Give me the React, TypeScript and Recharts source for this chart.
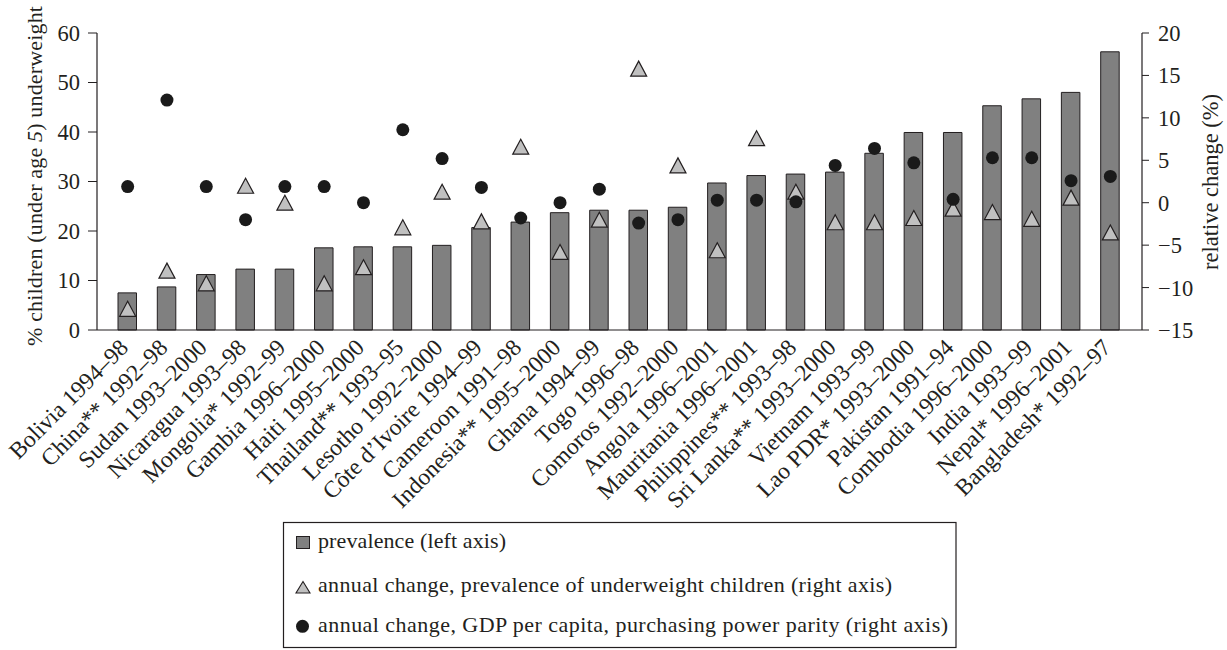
import { Bar, ComposedChart, Scatter, XAxis, YAxis } from "recharts";

const countries = [
  "Bolivia 1994–98",
  "China** 1992–98",
  "Sudan 1993–2000",
  "Nicaragua 1993–98",
  "Mongolia* 1992–99",
  "Gambia 1996–2000",
  "Haiti 1995–2000",
  "Thailand** 1993–95",
  "Lesotho 1992–2000",
  "Côte d’Ivoire 1994–99",
  "Cameroon 1991–98",
  "Indonesia** 1995–2000",
  "Ghana 1994–99",
  "Togo 1996–98",
  "Comoros 1992–2000",
  "Angola 1996–2001",
  "Mauritania 1996–2001",
  "Philippines** 1993–98",
  "Sri Lanka** 1993–2000",
  "Vietnam 1993–99",
  "Lao PDR* 1993–2000",
  "Pakistan 1991–94",
  "Combodia 1996–2000",
  "India 1993–99",
  "Nepal* 1996–2001",
  "Bangladesh* 1992–97",
];

// % of children under 5 underweight (left axis)
const prevalence = [
  7.5, 8.7, 11.2, 12.3, 12.3, 16.6, 16.8, 16.8, 17.1, 20.7, 21.8, 23.7, 24.2,
  24.2, 24.8, 29.7, 31.2, 31.5, 31.9, 35.7, 39.9, 39.9, 45.3, 46.7, 48.0, 56.2,
];

// annual change in underweight prevalence, % (right axis)
const underweightChange = [
  -12.5, -8.0, -9.5, 2.0, 0.0, -9.5, -7.6, -2.9, 1.3, -2.2, 6.6, -5.8, -2.0,
  15.8, 4.4, -5.6, 7.6, 1.3, -2.3, -2.3, -1.8, -0.7, -1.1, -1.9, 0.6, -3.5,
];

// annual change in GDP per capita (PPP), % (right axis)
const gdpChange = [
  1.9, 12.1, 1.9, -2.0, 1.9, 1.9, 0.0, 8.6, 5.2, 1.8, -1.8, 0.0, 1.6, -2.4,
  -2.0, 0.3, 0.3, 0.1, 4.4, 6.4, 4.7, 0.4, 5.3, 5.3, 2.6, 3.1,
];

const leftTicks = [0, 10, 20, 30, 40, 50, 60];
const rightTicks = [-15, -10, -5, 0, 5, 10, 15, 20];

const INK = "#231f20";
const BAR = "#808080";
const TRI = "#c0c0c0";
const FONT = "Liberation Serif, Times New Roman, serif";

const data = countries.map((name, i) => ({
  name,
  prevalence: prevalence[i],
  underweight: underweightChange[i],
  gdp: gdpChange[i],
}));

const withMinus = (v: number) => String(v).replace("-", "\u2212");

function CategoryTick(props: any) {
  const tx = Number(props.x) + 2;
  const ty = Number(props.y);
  return (
    <text
      x={tx}
      y={ty}
      transform={`rotate(-45 ${tx} ${ty})`}
      textAnchor="end"
      fill={INK}
      fontSize={23.5}
      fontFamily={FONT}
    >
      {props.payload.value}
    </text>
  );
}

const Triangle = (props: any) => {
  const { cx, cy } = props;
  return (
    <polygon
      points={`${cx},${cy - 7.5} ${cx - 8},${cy + 7.5} ${cx + 8},${cy + 7.5}`}
      fill={TRI}
      stroke={INK}
      strokeWidth={1.2}
    />
  );
};

const Dot = (props: any) => <circle cx={props.cx} cy={props.cy} r={6.5} fill="#1a1a1a" />;

const tickStyle = { fill: INK, fontSize: 22.5, fontFamily: FONT };

export default function App() {
  return (
    <div
      style={{
        position: "fixed",
        left: 0,
        top: 0,
        width: 1227,
        height: 650,
        background: "#fff",
        fontFamily: FONT,
      }}
    >
      <ComposedChart
        width={1227}
        height={650}
        data={data}
        margin={{ top: 33, right: 0, bottom: 290, left: 0 }}
      >
        <XAxis
          dataKey="name"
          type="category"
          interval={0}
          height={30}
          padding={{ left: 11, right: 12 }}
          tickLine={false}
          tickSize={0}
          tickMargin={19}
          axisLine={{ stroke: INK, strokeWidth: 1.2 }}
          tick={<CategoryTick />}
        />
        <YAxis
          yAxisId="left"
          orientation="left"
          width={97}
          domain={[0, 60]}
          ticks={leftTicks}
          interval={0}
          tickSize={9}
          tickMargin={8}
          tickLine={{ stroke: INK }}
          axisLine={{ stroke: INK, strokeWidth: 1.2 }}
          tick={tickStyle}
        />
        <YAxis
          yAxisId="right"
          orientation="right"
          width={85}
          domain={[-15, 20]}
          ticks={rightTicks}
          interval={0}
          tickSize={7}
          tickMargin={9}
          tickFormatter={withMinus}
          tickLine={{ stroke: INK }}
          axisLine={{ stroke: INK, strokeWidth: 1.2 }}
          tick={tickStyle}
        />
        <Bar
          yAxisId="left"
          dataKey="prevalence"
          barSize={18.5}
          fill={BAR}
          stroke={INK}
          strokeWidth={1}
          isAnimationActive={false}
        />
        <Scatter yAxisId="right" dataKey="underweight" shape={Triangle} isAnimationActive={false} />
        <Scatter yAxisId="right" dataKey="gdp" shape={Dot} isAnimationActive={false} />
      </ComposedChart>

      <svg
        width={1227}
        height={650}
        style={{ position: "absolute", left: 0, top: 0, pointerEvents: "none" }}
      >
        <text
          transform="translate(42 176) rotate(-90)"
          textAnchor="middle"
          fill={INK}
          fontSize={22}
          fontFamily={FONT}
          textLength={340}
          lengthAdjust="spacing"
        >
          % children (under age <tspan fontStyle="italic">5</tspan>) underweight
        </text>
        <text
          transform="translate(1218 182) rotate(-90)"
          textAnchor="middle"
          fill={INK}
          fontSize={22.5}
          fontFamily={FONT}
        >
          relative change (%)
        </text>

        <rect x={283.5} y={522.5} width={672.5} height={125} fill="#fff" stroke={INK} strokeWidth={1.2} />
        <rect x={296.5} y={536.5} width={13} height={12} fill={BAR} stroke={INK} />
        <text x={318} y={548} fill={INK} fontSize={22} fontFamily={FONT} textLength={188} lengthAdjust="spacing">
          prevalence (left axis)
        </text>
        <polygon points="303,581.5 296,593 310,593" fill={TRI} stroke={INK} strokeWidth={1.1} />
        <text x={318} y={592} fill={INK} fontSize={22} fontFamily={FONT} textLength={574} lengthAdjust="spacing">
          annual change, prevalence of underweight children (right axis)
        </text>
        <circle cx={302.5} cy={626.3} r={6.5} fill="#1a1a1a" />
        <text x={318} y={632} fill={INK} fontSize={22} fontFamily={FONT} textLength={630} lengthAdjust="spacing">
          annual change, GDP per capita, purchasing power parity (right axis)
        </text>
      </svg>
    </div>
  );
}
